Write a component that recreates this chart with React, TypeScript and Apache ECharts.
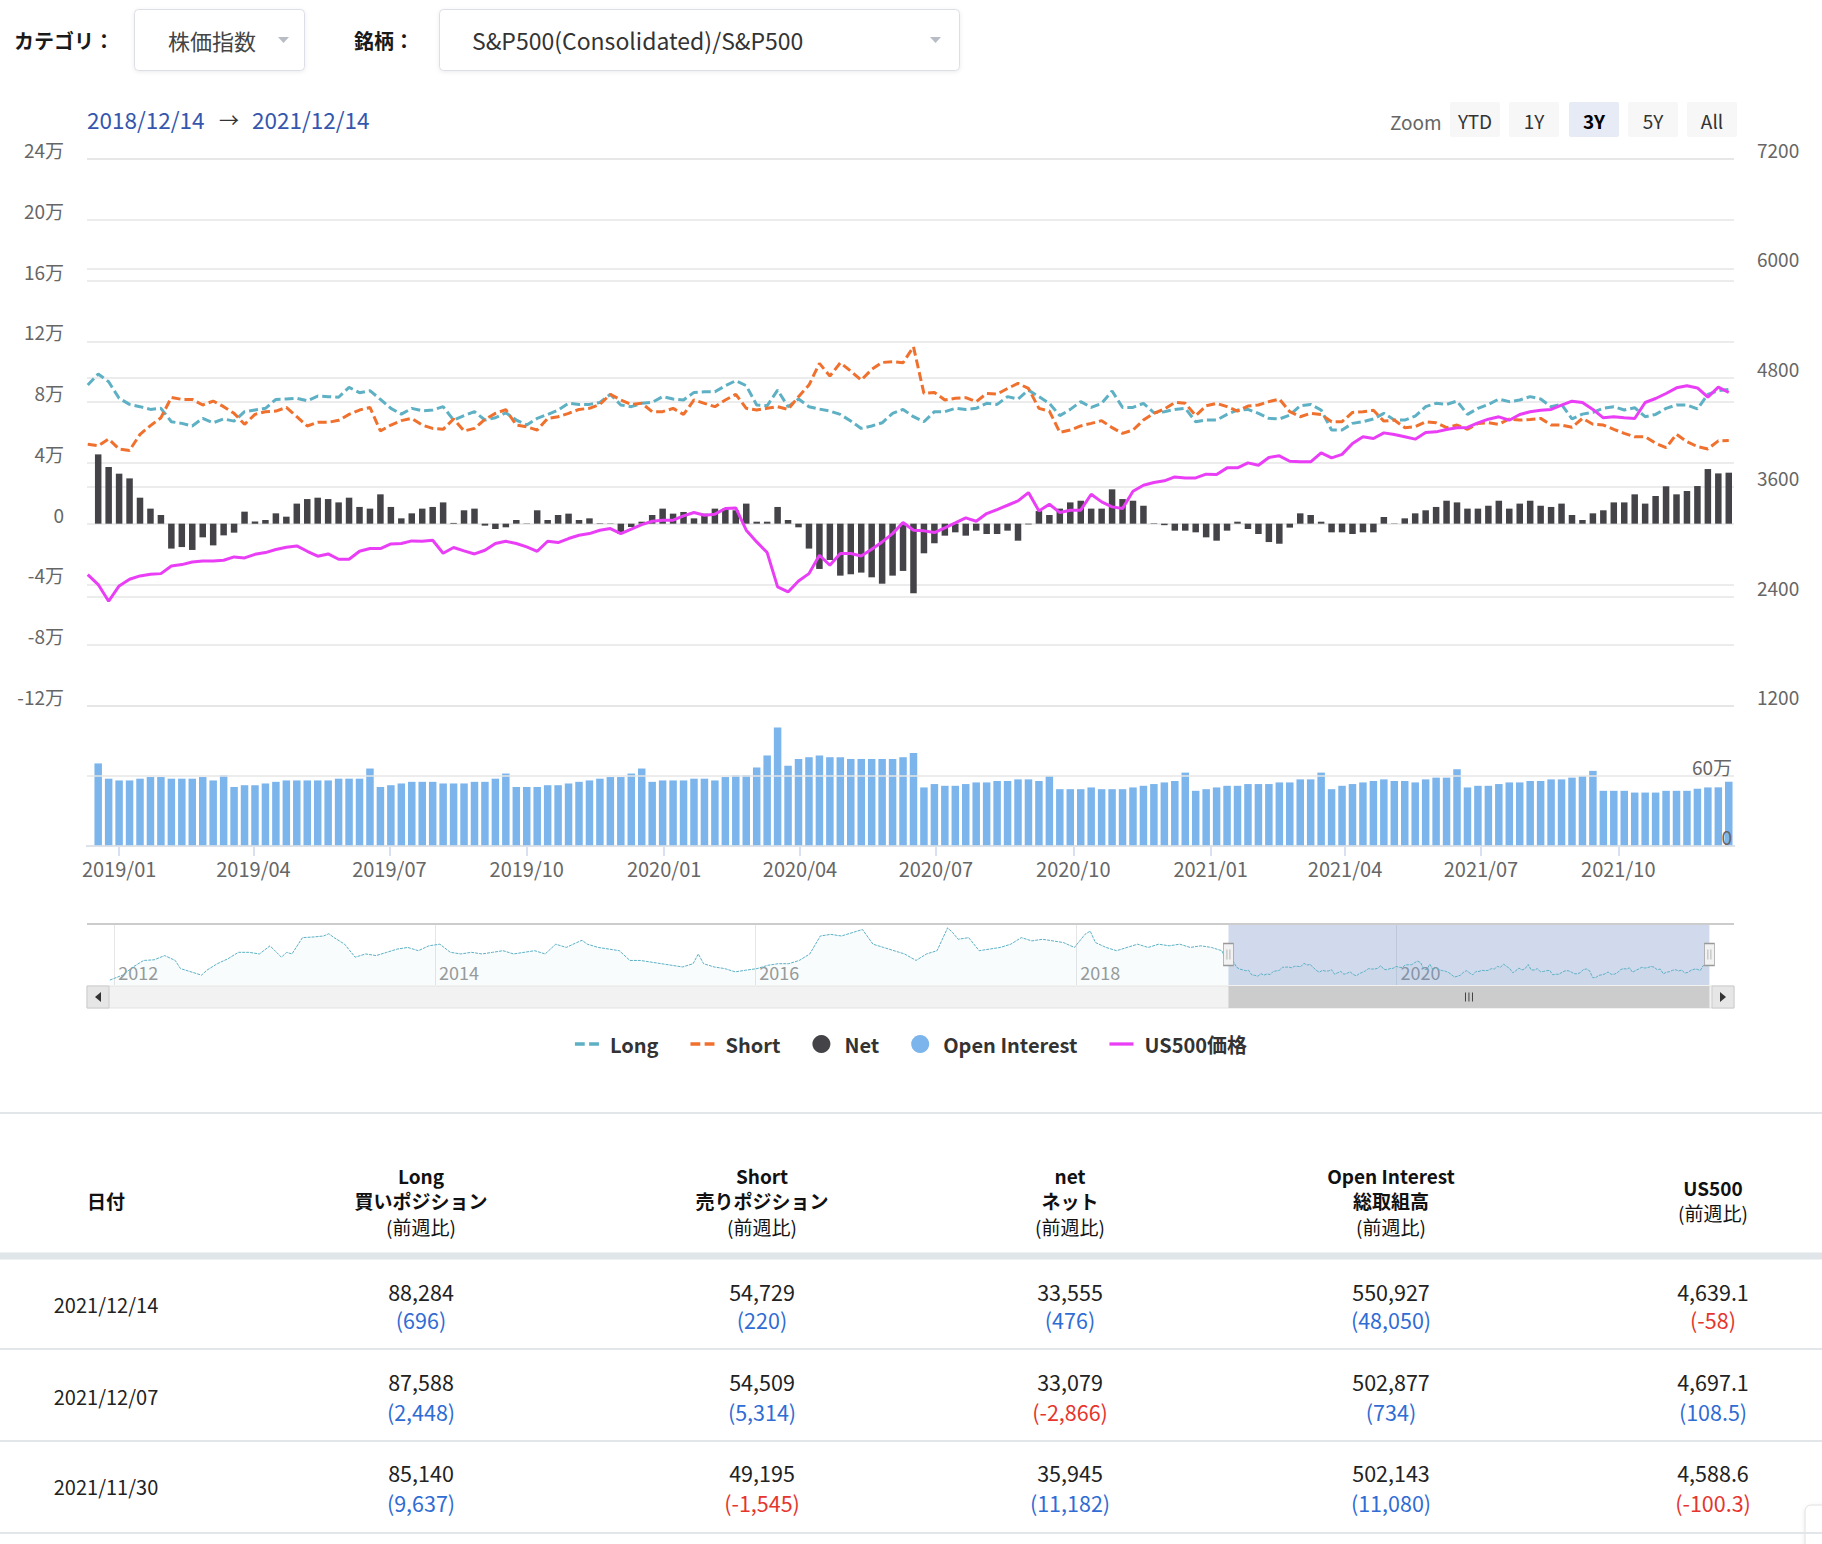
import React, { useEffect, useRef } from 'react';
import * as echarts from 'echarts';

const FONT = '"Noto Sans CJK JP", "Noto Sans", sans-serif';

// ================= DATA =================
const CATEGORY_LABEL = 'カテゴリ：';
const CATEGORY_VALUE = '株価指数';
const SYMBOL_LABEL = '銘柄：';
const SYMBOL_VALUE = 'S&P500(Consolidated)/S&P500';
const RANGE_FROM = '2018/12/14';
const RANGE_TO = '2021/12/14';
const RANGE_BUTTONS = ['YTD', '1Y', '3Y', '5Y', 'All'];
const RANGE_SELECTED = '3Y';

const FIRST_REPORT = '2018-12-18'; // weekly COT report dates (Tuesdays)
const PREV_REPORT = '2018-12-11';
const PREV_LONG = 91200;
const PREV_SHORT = 52200;
const PREV_US500 = 2641;

const LONG = [
  98500, 93400, 82500, 78500, 77000, 75200, 75900, 67100, 66000, 64300,
  69300, 66400, 68900, 67500, 73700, 74800, 75900, 81800, 82000, 82500,
  80900, 84000, 83600, 83200, 89700, 86200, 87500, 81800, 75900, 72100,
  75900, 74300, 74800, 77000, 68200, 71100, 73700, 68200, 69700, 73000,
  68200, 64900, 69300, 71900, 74800, 79200, 78500, 78500, 79800, 85100,
  78100, 77000, 79200, 79800, 83600, 82000, 81400, 86400, 86800, 86800,
  90800, 94100, 90800, 78100, 77600, 87900, 77000, 82000, 77000, 75400,
  74100, 71900, 67500, 62700, 64300, 66400, 72600, 75200, 70400, 67100,
  73700, 73700, 75900, 75200, 75900, 79200, 78500, 83600, 82000, 87900,
  83600, 79200, 71100, 75200, 80300, 76500, 79200, 87300, 76500, 76500,
  79200, 73000, 73700, 75200, 75900, 67100, 68200, 68200, 71900, 74800,
  75200, 72600, 69300, 68900, 71500, 77600, 78500, 74800, 61600, 61600,
  66000, 67100, 68900, 72600, 68200, 68200, 70800, 77000, 79200, 78500,
  80700, 71900, 75900, 78500, 82000, 80300, 81400, 83600, 82000, 77000,
  78500, 68900, 72100, 73200, 75900, 77000, 74800, 76300, 70400, 71900,
  75900, 78100, 78100, 75503, 85140, 87588, 88284,
];

const SHORT = [
  51300, 55700, 49100, 48200, 58800, 64500, 69700, 83100, 81800, 81800,
  78100, 80700, 77000, 72600, 65400, 71900, 73700, 74100, 76500, 70400,
  64300, 66700, 66700, 68000, 71900, 74800, 76500, 61000, 64900, 67800,
  69300, 64900, 62700, 62100, 68900, 61000, 62700, 68600, 72600, 75000,
  64900, 63800, 61600, 69300, 70400, 72600, 75200, 75900, 78500, 85100,
  81400, 78500, 79200, 73700, 73700, 75900, 71900, 81400, 79200, 77000,
  81400, 85100, 75900, 74800, 75900, 77000, 75200, 83600, 91200, 105500,
  97100, 105900, 100400, 94500, 101500, 106100, 106600, 105900, 116400, 85700,
  86400, 81400, 82500, 82900, 80300, 85700, 85300, 89000, 92300, 89000,
  75900, 74100, 60100, 61600, 64300, 66000, 67800, 63200, 59400, 61600,
  68200, 72600, 75400, 79800, 79200, 71100, 77600, 79200, 77000, 74100,
  77400, 78100, 80300, 82000, 73700, 70400, 72600, 71900, 67100, 67100,
  73200, 73700, 74600, 67500, 68200, 63200, 63800, 67100, 66400, 63200,
  64900, 62100, 66000, 66400, 65400, 68900, 68200, 68600, 69300, 64900,
  64900, 63400, 69300, 65400, 64900, 62100, 59400, 57200, 57200, 52900,
  50000, 58800, 53900, 50740, 49195, 54509, 54729,
];

const NET = [
  45600, 37300, 32900, 29800, 17100, 9900, 5700, -16400, -15400, -17300,
  -9000, -14300, -7700, -5900, 7900, 1500, 2400, 6800, 4600, 13200,
  16200, 17100, 16200, 14000, 17100, 11000, 9900, 19300, 11000, 3500,
  6800, 9900, 11000, 14000, 500, 8800, 9900, -1300, -3500, -2400,
  2400, 200, 8800, 2400, 5700, 6600, 2400, 3500, 300, -200,
  -6800, -2200, 1300, 5700, 9900, 6600, 7700, 3500, 6600, 9900,
  9900, 8800, 13200, 1300, 1300, 11000, 2400, -2400, -16400, -29800,
  -23900, -34200, -33300, -32200, -35300, -39500, -34200, -31100, -45800, -19500,
  -12900, -7900, -5700, -7900, -4600, -6800, -6800, -4600, -11200, -500,
  8300, 5700, 9900, 14000, 15100, 9900, 9900, 22600, 16200, 15100,
  11800, 300, -1000, -4600, -4600, -5700, -9000, -11200, -4600, 1300,
  -3500, -6800, -12100, -13200, -2600, 6800, 5700, 1300, -5700, -5700,
  -6800, -5700, -5700, 4400, 200, 3500, 6800, 8800, 11000, 15100,
  14000, 9900, 9900, 11800, 15100, 9900, 13200, 15100, 11800, 11000,
  13200, 5700, 2400, 6800, 8800, 14000, 14000, 19300, 13200, 18200,
  24600, 19300, 21500, 24763, 35945, 33079, 33555,
];

const OPEN_INTEREST = [
  708000, 577000, 562000, 562000, 577000, 591000, 591000, 577000, 577000, 577000,
  591000, 562000, 606000, 506000, 521000, 521000, 536000, 550000, 562000, 562000,
  562000, 562000, 562000, 577000, 577000, 577000, 664000, 506000, 521000, 536000,
  550000, 550000, 550000, 536000, 536000, 536000, 550000, 550000, 577000, 621000,
  506000, 506000, 506000, 521000, 521000, 536000, 550000, 562000, 577000, 591000,
  591000, 621000, 664000, 550000, 562000, 562000, 562000, 577000, 577000, 562000,
  591000, 606000, 606000, 673000, 776000, 1016000, 688000, 746000, 761000, 776000,
  761000, 761000, 746000, 746000, 746000, 746000, 746000, 761000, 797000, 502000,
  531000, 516000, 516000, 531000, 545000, 545000, 557000, 557000, 571000, 571000,
  557000, 600000, 487000, 487000, 487000, 502000, 487000, 487000, 487000, 502000,
  516000, 531000, 545000, 557000, 629000, 473000, 487000, 502000, 516000, 516000,
  531000, 531000, 531000, 545000, 545000, 571000, 571000, 629000, 487000, 516000,
  531000, 545000, 557000, 571000, 557000, 557000, 545000, 571000, 586000, 586000,
  658000, 502000, 516000, 516000, 531000, 545000, 545000, 557000, 557000, 571000,
  571000, 586000, 600000, 644000, 473000, 473000, 473000, 458000, 458000, 458000,
  473000, 473000, 473000, 491063, 502143, 502877, 550927,
];

const US500 = [
  2532, 2349, 2517, 2590, 2627, 2645, 2652, 2736, 2751, 2780,
  2791, 2791, 2799, 2835, 2824, 2864, 2883, 2916, 2941, 2956,
  2897, 2843, 2868, 2810, 2810, 2897, 2927, 2927, 2978, 2982,
  3011, 3007, 3018, 2876, 2938, 2901, 2868, 2908, 2982, 3007,
  2982, 2945, 2897, 3007, 2993, 3037, 3073, 3091, 3128, 3146,
  3091, 3139, 3190, 3227, 3238, 3238, 3285, 3322, 3293, 3304,
  3366, 3373, 3128, 3000, 2883, 2506, 2451, 2572, 2652, 2854,
  2744, 2872, 2872, 2846, 2919, 3000, 3091, 3212, 3128, 3121,
  3102, 3154, 3208, 3263, 3227, 3311, 3355, 3402, 3450, 3541,
  3340, 3413, 3322, 3348, 3348, 3523, 3439, 3384, 3366, 3556,
  3622, 3651, 3670, 3713, 3702, 3702, 3743, 3739, 3812, 3812,
  3867, 3841, 3926, 3944, 3885, 3878, 3878, 3977, 3922, 3960,
  4079, 4153, 4134, 4196, 4178, 4153, 4127, 4200, 4207, 4233,
  4251, 4255, 4306, 4346, 4372, 4335, 4398, 4427, 4445, 4453,
  4500, 4544, 4529, 4453, 4361, 4372, 4361, 4354, 4529, 4573,
  4628, 4690, 4712, 4688.9, 4588.6, 4697.1, 4639.1,
];

// navigator history of Long (before the selected range)
const NAV_HIST_DATES = [
  '2011-12-22', '2012-01-20', '2012-02-13', '2012-03-08', '2012-04-01', '2012-04-25', '2012-05-19', '2012-05-31', '2012-06-24', '2012-07-18',
  '2012-07-30', '2012-08-23', '2012-09-16', '2012-10-10', '2012-11-03', '2012-11-27', '2012-12-21', '2013-01-16', '2013-01-28', '2013-02-09',
  '2013-03-05', '2013-03-29', '2013-04-22', '2013-05-04', '2013-05-16', '2013-06-09', '2013-07-03', '2013-07-27', '2013-08-20', '2013-09-13',
  '2013-10-07', '2013-10-31', '2013-11-24', '2013-12-18', '2014-01-12', '2014-02-05', '2014-03-01', '2014-03-25', '2014-04-18', '2014-05-12',
  '2014-06-05', '2014-06-29', '2014-07-23', '2014-08-16', '2014-09-09', '2014-10-03', '2014-10-27', '2014-11-20', '2014-12-02', '2014-12-14',
  '2015-01-08', '2015-02-01', '2015-02-25', '2015-03-21', '2015-04-14', '2015-05-08', '2015-06-01', '2015-06-25', '2015-07-19', '2015-08-12',
  '2015-08-24', '2015-09-05', '2015-09-29', '2015-10-23', '2015-11-16', '2015-12-10', '2016-01-05', '2016-01-29', '2016-02-22', '2016-03-17',
  '2016-04-10', '2016-05-04', '2016-05-28', '2016-06-21', '2016-07-15', '2016-08-08', '2016-09-01', '2016-09-25', '2016-10-19', '2016-11-12',
  '2016-12-06', '2017-01-01', '2017-01-25', '2017-02-18', '2017-03-14', '2017-03-26', '2017-04-07', '2017-05-01', '2017-05-25', '2017-06-18',
  '2017-07-12', '2017-08-05', '2017-08-29', '2017-09-22', '2017-10-16', '2017-11-09', '2017-12-03', '2017-12-28', '2018-01-21', '2018-02-02',
  '2018-02-14', '2018-03-10', '2018-04-03', '2018-04-27', '2018-05-21', '2018-06-14', '2018-07-08', '2018-08-01', '2018-08-25', '2018-09-18',
  '2018-10-12', '2018-11-05', '2018-11-29',
];
const NAV_HIST_LONG = [
  56800, 66400, 82500, 95300, 96600, 104900, 95300, 79300, 72900, 66400,
  76100, 88900, 98500, 111300, 111300, 108100, 124100, 101700, 111300, 108100,
  140200, 141400, 143400, 147900, 140200, 127300, 101700, 108100, 104900, 111300,
  117700, 120900, 114500, 124100, 127300, 111300, 108100, 111300, 108100, 111300,
  114500, 108100, 111300, 114500, 108100, 127300, 120900, 130500, 135000, 127300,
  120900, 117700, 114500, 95300, 95300, 92100, 88900, 85700, 82500, 88900,
  108100, 88900, 82500, 79300, 72900, 76100, 79300, 85700, 88900, 88900,
  95300, 108100, 143400, 146600, 143400, 149800, 156200, 127300, 120900, 114500,
  108100, 95300, 108100, 114500, 159400, 149800, 137000, 140200, 114500, 117700,
  120900, 127300, 140200, 133800, 137000, 133800, 130500, 120900, 146600, 153000,
  130500, 120900, 114500, 120900, 127300, 120900, 127300, 124100, 127300, 120900,
  124100, 120900, 114500,
];

const X_TICK_DATES = ['2019-01-01', '2019-04-01', '2019-07-01', '2019-10-01', '2020-01-01', '2020-04-01', '2020-07-01', '2020-10-01', '2021-01-01', '2021-04-01', '2021-07-01', '2021-10-01'];
const NAV_TICK_DATES = ['2012-01-01', '2014-01-01', '2016-01-01', '2018-01-01', '2020-01-01'];
const NAV_START = '2011-10-31';
const NAV_END = '2022-02-08';

const LEGEND_NAMES = ['Long', 'Short', 'Net', 'Open Interest', 'US500価格'];

// table
const TABLE_HEADERS = [
  ['日付'],
  ['Long', '買いポジション', '(前週比)'],
  ['Short', '売りポジション', '(前週比)'],
  ['net', 'ネット', '(前週比)'],
  ['Open Interest', '総取組高', '(前週比)'],
  ['US500', '(前週比)'],
];
const TABLE_DATES = ['2021/12/14', '2021/12/07', '2021/11/30'];
const TABLE_LONG = [88284, 87588, 85140];
const TABLE_LONG_CHG = [696, 2448, 9637];
const TABLE_SHORT = [54729, 54509, 49195];
const TABLE_SHORT_CHG = [220, 5314, -1545];
const TABLE_NET = [33555, 33079, 35945];
const TABLE_NET_CHG = [476, -2866, 11182];
const TABLE_OI = [550927, 502877, 502143];
const TABLE_OI_CHG = [48050, 734, 11080];
const TABLE_US500 = [4639.1, 4697.1, 4588.6];
const TABLE_US500_CHG = [-58, 108.5, -100.3];

// ================= helpers =================
const DAY = 86400000;
const ts = (s: string) => {
  const p = s.replace(/\//g, '-').split('-').map(Number);
  return Date.UTC(p[0], p[1] - 1, p[2]);
};
const REPORT_TS = LONG.map((_, i) => ts(FIRST_REPORT) + i * 7 * DAY);
const pairs = (vals: number[]) => vals.map((v, i) => [REPORT_TS[i], v]);

const MAIN_MIN = ts(RANGE_FROM) - 3.5 * DAY;
const MAIN_MAX = ts(RANGE_TO) + 3.5 * DAY;
const NAV_MIN = ts(NAV_START);
const NAV_MAX = ts(NAV_END);
const NAV_Y_MIN = 47000;
const NAV_Y_MAX = 167000;

const pad2 = (n: number) => (n < 10 ? '0' + n : '' + n);
const fmtMonth = (v: number) => {
  const d = new Date(v);
  return `${d.getUTCFullYear()}/${pad2(d.getUTCMonth() + 1)}`;
};
const fmtMan = (v: number) => (v === 0 ? '0' : `${v / 10000}万`);

const C_LONG = '#5eb0c4';
const C_SHORT = '#f0702e';
const C_NET = '#434348';
const C_OI = '#7cb5ec';
const C_PX = '#e93ef6';

function text(x: number, y: number, s: string, o: any = {}) {
  const align = o.align || 'left';
  const size = o.size || 20;
  return {
    type: 'text',
    x,
    y,
    z: 20,
    silent: true,
    style: {
      text: s,
      fill: o.fill || '#333',
      font: `${o.weight || 'normal'} ${size}px ${FONT}`,
      lineHeight: o.lh || size + 2,
      textAlign: align,
      align,
      textVerticalAlign: 'middle',
      verticalAlign: 'middle',
    },
  };
}
function rect(x: number, y: number, w: number, h: number, o: any = {}) {
  return {
    type: 'rect',
    z: o.z || 15,
    silent: true,
    shape: { x, y, width: w, height: h, r: o.r || 0 },
    style: {
      fill: o.fill || '#fff',
      stroke: o.stroke || null,
      lineWidth: o.lw || 1,
      shadowBlur: o.shadow ? 4 : 0,
      shadowColor: 'rgba(0,0,0,0.08)',
      shadowOffsetY: o.shadow ? 1 : 0,
    },
  };
}
function hline(x1: number, x2: number, y: number, color: string, lw: number) {
  return { type: 'line', z: 16, silent: true, shape: { x1, y1: y, x2, y2: y }, style: { stroke: color, lineWidth: lw } };
}
function tri(points: number[][], fill: string) {
  return { type: 'polygon', z: 20, silent: true, shape: { points }, style: { fill } };
}

function buildGraphics() {
  const g: any[] = [];
  // header selects
  g.push(text(14, 40, CATEGORY_LABEL, { size: 20, weight: 'bold', fill: '#1a1a1a' }));
  g.push(rect(134.5, 9.5, 170, 61, { fill: '#fff', stroke: '#dcdfe6', r: 4, shadow: true }));
  g.push(text(168, 40, CATEGORY_VALUE, { size: 22, fill: '#444' }));
  g.push(tri([[278, 37], [289, 37], [283.5, 43]], '#b8bcc4'));
  g.push(text(354, 40, SYMBOL_LABEL, { size: 20, weight: 'bold', fill: '#1a1a1a' }));
  g.push(rect(439.5, 9.5, 520, 61, { fill: '#fff', stroke: '#dcdfe6', r: 4, shadow: true }));
  g.push(text(472, 40, SYMBOL_VALUE, { size: 23, fill: '#333' }));
  g.push(tri([[930, 37], [941, 37], [935.5, 43]], '#b8bcc4'));

  // date range
  g.push(text(87, 119, RANGE_FROM, { size: 22.5, fill: '#3556ad' }));
  g.push(text(229, 119, '→', { size: 20, fill: '#333', align: 'center' }));
  g.push(text(252, 119, RANGE_TO, { size: 22.5, fill: '#3556ad' }));

  // range selector
  g.push(text(1390, 121, 'Zoom', { size: 19, fill: '#666' }));
  const bx = [1450, 1509, 1569, 1628, 1687];
  RANGE_BUTTONS.forEach((b, i) => {
    const sel = b === RANGE_SELECTED;
    g.push(rect(bx[i], 102, 50, 35, { fill: sel ? '#e6ebf5' : '#f7f7f7', r: 2 }));
    g.push(text(bx[i] + 25, 120, b, { size: 19, align: 'center', fill: sel ? '#000' : '#333', weight: sel ? 'bold' : 'normal' }));
  });

  // navigator outline
  g.push(hline(87, 1734, 924, '#cccccc', 2));
  // scrollbar buttons
  g.push(rect(87, 986, 22, 22, { fill: '#e6e6e6', stroke: '#cccccc', z: 18 }));
  g.push(tri([[101, 992], [101, 1002], [95, 997]], '#333'));
  g.push(rect(1712, 986, 22, 22, { fill: '#e6e6e6', stroke: '#cccccc', z: 18 }));
  g.push(tri([[1720, 992], [1720, 1002], [1726, 997]], '#333'));

  // separator above table
  g.push(hline(0, 1822, 1113, '#e3e6e8', 2));

  // table
  const cx = [106, 421, 762, 1070, 1391, 1713];
  TABLE_HEADERS.forEach((lines, c) => {
    const n = lines.length;
    const ys = n === 3 ? [1175, 1200, 1226] : n === 2 ? [1187, 1212] : [1200];
    lines.forEach((l, k) => {
      const isNote = l.startsWith('(');
      g.push(text(cx[c], ys[k], l, { size: 19, lh: 21, align: 'center', weight: isNote ? 'normal' : 'bold', fill: '#111' }));
    });
  });
  g.push(rect(0, 1252.5, 1822, 7, { fill: '#dfe5e8', z: 14 }));

  const rowDateY = [1304, 1396, 1486];
  const rowL1 = [1291, 1381, 1472];
  const rowL2 = [1319, 1411, 1502];
  const rowSep = [1349, 1441, 1533];
  const fi = (n: number) => n.toLocaleString('en-US');
  const fp = (n: number) => n.toLocaleString('en-US', { minimumFractionDigits: 1, maximumFractionDigits: 1 });
  const fc = (n: number) => '(' + n.toLocaleString('en-US', { maximumFractionDigits: 1 }) + ')';
  const colVals = [
    [TABLE_LONG, TABLE_LONG_CHG, fi],
    [TABLE_SHORT, TABLE_SHORT_CHG, fi],
    [TABLE_NET, TABLE_NET_CHG, fi],
    [TABLE_OI, TABLE_OI_CHG, fi],
    [TABLE_US500, TABLE_US500_CHG, fp],
  ] as any[];
  TABLE_DATES.forEach((d, r) => {
    g.push(text(cx[0], rowDateY[r], d, { size: 20, align: 'center', fill: '#222' }));
    colVals.forEach((cv, c) => {
      const v = cv[0][r];
      const ch = cv[1][r];
      g.push(text(cx[c + 1], rowL1[r], cv[2](v), { size: 21.5, lh: 23, align: 'center', fill: '#222' }));
      g.push(text(cx[c + 1], rowL2[r], fc(ch), { size: 21.5, lh: 23, align: 'center', fill: ch < 0 ? '#e5352d' : '#2f6cd4' }));
    });
    g.push(hline(0, 1822, rowSep[r], '#e2e6e9', 2));
  });

  // small floating widget at bottom-right
  g.push(rect(1805, 1505, 40, 45, { fill: '#fff', stroke: '#e0e0e0', r: 6, shadow: true }));
  return g;
}

function buildOption() {
  const labelStyle = { color: '#666666', fontSize: 19, fontFamily: FONT };
  const splitLine = { show: true, lineStyle: { color: '#e6e6e6', width: 1.5 } };
  const xTicks = X_TICK_DATES.map(ts);
  const navTicks = NAV_TICK_DATES.map(ts);
  const selStart = ts(RANGE_FROM);
  const selEnd = ts(RANGE_TO);
  const navMid = (NAV_Y_MIN + NAV_Y_MAX) / 2;

  const navData = [
    ...NAV_HIST_DATES.map((d, i) => [ts(d), NAV_HIST_LONG[i]]),
    [ts(PREV_REPORT), PREV_LONG],
    ...pairs(LONG),
  ];

  const hideAxis = { axisLine: { show: false }, axisTick: { show: false }, axisLabel: { show: false }, splitLine: { show: false } };
  const dashIcon = 'path://M0,0H9V3H0Z M13,0H22V3H13Z';
  const solidIcon = 'path://M0,0H22V3H0Z';
  const legendIcon = (n: string) =>
    n === 'Net' || n === 'Open Interest' ? 'circle' : n === 'US500価格' ? solidIcon : dashIcon;

  return {
    animation: false,
    backgroundColor: '#ffffff',
    textStyle: { fontFamily: FONT },
    grid: [
      { left: 87, top: 159, width: 1647, height: 547, outerBoundsMode: 'none', containLabel: false },
      { left: 87, top: 706, width: 1647, height: 140, outerBoundsMode: 'none', containLabel: false },
      { left: 87, top: 924, width: 1647, height: 61, outerBoundsMode: 'none', containLabel: false },
      { left: 87, top: 986, width: 1647, height: 22, outerBoundsMode: 'none', containLabel: false, show: true, backgroundColor: '#f2f2f2', borderColor: '#e3e3e3', borderWidth: 1 },
    ],
    xAxis: [
      { type: 'value', gridIndex: 0, min: MAIN_MIN, max: MAIN_MAX, scale: true, ...hideAxis },
      {
        type: 'value', gridIndex: 1, min: MAIN_MIN, max: MAIN_MAX, scale: true,
        axisLine: { show: true, onZero: false, lineStyle: { color: '#ccd6eb', width: 2 } },
        axisTick: { show: true, customValues: xTicks, length: 10, lineStyle: { color: '#ccd6eb', width: 1.5 } },
        axisLabel: { show: true, customValues: xTicks, formatter: fmtMonth, margin: 12, ...labelStyle, fontSize: 20 },
        splitLine: { show: false },
      },
      {
        type: 'value', gridIndex: 2, min: NAV_MIN, max: NAV_MAX, scale: true,
        axisLine: { show: false },
        axisTick: { show: false, customValues: navTicks },
        axisLabel: {
          show: true, customValues: navTicks, inside: true, margin: 4,
          formatter: (v: number) => String(new Date(v).getUTCFullYear()),
          align: 'left', verticalAlign: 'bottom', padding: [0, 0, 0, 4],
          color: '#999999', fontSize: 18, fontFamily: FONT,
        },
        splitLine: { show: true, lineStyle: { color: '#e6e6e6', width: 1 } },
      },
      { type: 'value', gridIndex: 3, min: NAV_MIN, max: NAV_MAX, scale: true, show: false },
    ],
    yAxis: [
      {
        type: 'value', gridIndex: 0, position: 'left', min: -120000, max: 240000, interval: 40000,
        axisLine: { show: false }, axisTick: { show: false },
        axisLabel: { formatter: fmtMan, verticalAlign: 'bottom', margin: 23, ...labelStyle },
        splitLine,
      },
      {
        type: 'value', gridIndex: 0, position: 'right', min: 1200, max: 7200, interval: 1200,
        axisLine: { show: false }, axisTick: { show: false },
        axisLabel: { formatter: (v: number) => String(v), verticalAlign: 'bottom', margin: 23, ...labelStyle },
        splitLine,
      },
      {
        type: 'value', gridIndex: 1, position: 'right', min: 0, max: 1200000, interval: 600000, z: 10,
        axisLine: { show: false }, axisTick: { show: false },
        axisLabel: { inside: true, formatter: fmtMan, verticalAlign: 'bottom', margin: 2, showMaxLabel: false, ...labelStyle },
        splitLine,
      },
      { type: 'value', gridIndex: 2, min: NAV_Y_MIN, max: NAV_Y_MAX, show: false },
      { type: 'value', gridIndex: 3, min: 0, max: 1, show: false },
    ],
    legend: {
      top: 1029,
      left: 'center',
      itemGap: 32,
      itemWidth: 24,
      itemHeight: 18,
      textStyle: { fontSize: 20, fontWeight: 'bold', color: '#333', fontFamily: FONT, padding: [0, 0, 0, 6] },
      data: LEGEND_NAMES.map((n) => ({ name: n, icon: legendIcon(n) })),
    },
    graphic: buildGraphics(),
    series: [
      {
        name: 'Net', type: 'bar', xAxisIndex: 0, yAxisIndex: 0, data: pairs(NET),
        barWidth: 6.5, itemStyle: { color: C_NET },
      },
      {
        name: 'Long', type: 'line', xAxisIndex: 0, yAxisIndex: 0,
        data: [[ts(PREV_REPORT), PREV_LONG], ...pairs(LONG)],
        symbol: 'none', itemStyle: { color: C_LONG },
        lineStyle: { color: C_LONG, width: 3, type: [9, 4] },
      },
      {
        name: 'Short', type: 'line', xAxisIndex: 0, yAxisIndex: 0,
        data: [[ts(PREV_REPORT), PREV_SHORT], ...pairs(SHORT)],
        symbol: 'none', itemStyle: { color: C_SHORT },
        lineStyle: { color: C_SHORT, width: 3, type: [9, 4] },
      },
      {
        name: 'US500価格', type: 'line', xAxisIndex: 0, yAxisIndex: 1,
        data: [[ts(PREV_REPORT), PREV_US500], ...pairs(US500)],
        symbol: 'none', itemStyle: { color: C_PX },
        lineStyle: { color: C_PX, width: 3 },
      },
      {
        name: 'Open Interest', type: 'bar', xAxisIndex: 1, yAxisIndex: 2, data: pairs(OPEN_INTEREST),
        barWidth: 7.5, itemStyle: { color: C_OI },
      },
      {
        name: 'navigator', type: 'line', xAxisIndex: 2, yAxisIndex: 3, data: navData,
        symbol: 'none', silent: true,
        lineStyle: { color: C_LONG, width: 1, type: [3, 1] },
        itemStyle: { color: C_LONG },
        areaStyle: { color: 'rgba(94,176,196,0.06)' },
        markArea: {
          silent: true,
          itemStyle: { color: 'rgba(102,133,194,0.3)' },
          label: { show: false },
          data: [[{ xAxis: selStart }, { xAxis: selEnd }]],
        },
        markPoint: {
          silent: true,
          symbol: 'path://M0,0L10,0L10,22L0,22Z M3.5,6L3.5,16 M6.5,6L6.5,16',
          symbolSize: [10, 22],
          itemStyle: { color: '#f2f2f2', borderColor: '#999999', borderWidth: 1 },
          label: { show: false },
          data: [{ coord: [selStart, navMid] }, { coord: [selEnd, navMid] }],
        },
      },
      {
        name: 'scrollbar', type: 'line', xAxisIndex: 3, yAxisIndex: 4,
        data: [[NAV_MIN, 0.5]], symbol: 'none', silent: true, lineStyle: { opacity: 0 },
        markArea: {
          silent: true,
          itemStyle: { color: '#cccccc' },
          label: { show: false },
          data: [[{ xAxis: selStart, yAxis: 0 }, { xAxis: selEnd, yAxis: 1 }]],
        },
        markPoint: {
          silent: true,
          symbol: 'path://M0,0L0,10M3,0L3,10M6,0L6,10',
          symbolSize: [7, 9],
          itemStyle: { color: 'none', borderColor: '#333333', borderWidth: 1 },
          label: { show: false },
          data: [{ coord: [(selStart + selEnd) / 2, 0.5] }],
        },
      },
    ],
  };
}

export default function App() {
  const ref = useRef<HTMLDivElement>(null);
  useEffect(() => {
    document.body.style.margin = '0';
    document.body.style.overflow = 'hidden';
    const el = ref.current!;
    const chart = echarts.init(el, undefined, { renderer: 'svg' });
    chart.setOption(buildOption() as any);
    return () => chart.dispose();
  }, []);
  return (
    <div
      ref={ref}
      style={{ position: 'absolute', left: 0, top: 0, width: 1822, height: 1544, background: '#fff' }}
    />
  );
}
